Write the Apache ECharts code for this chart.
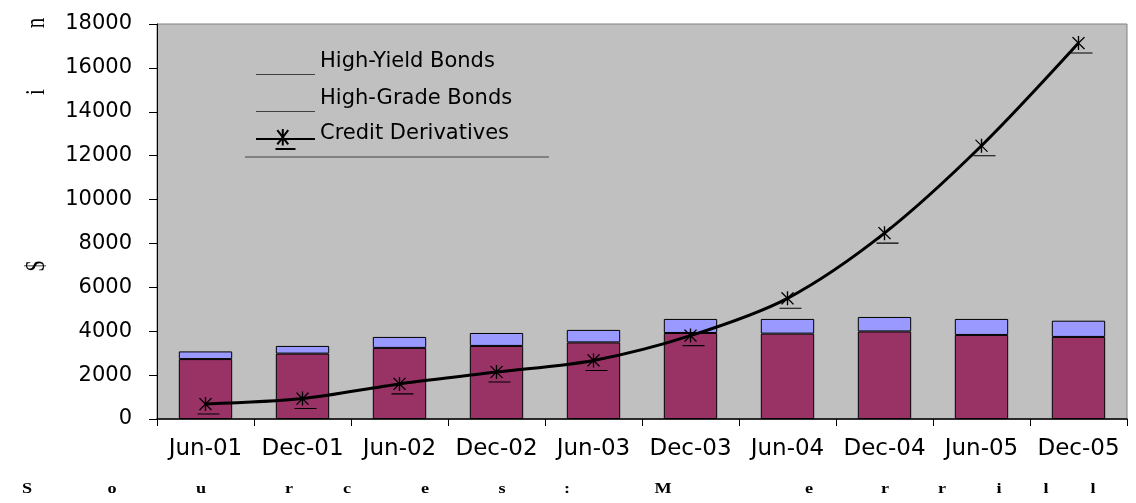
<!DOCTYPE html>
<html>
<head>
<meta charset="utf-8">
<script src="https://cdn.jsdelivr.net/npm/echarts@6/dist/echarts.min.js"></script>
<style>
  html, body { margin: 0; padding: 0; background: #ffffff; }
  #chart { width: 1136px; height: 503px; }
</style>
</head>
<body>
<div id="chart"></div>
<script>
// Half-yearly periods
const categories = ['Jun-01', 'Dec-01', 'Jun-02', 'Dec-02', 'Jun-03', 'Dec-03', 'Jun-04', 'Dec-04', 'Jun-05', 'Dec-05'];

// Outstanding amounts, $ billions
const highGradeBonds = [2730, 2980, 3240, 3330, 3490, 3920, 3890, 3990, 3830, 3740];
const highYieldBonds = [350, 350, 500, 590, 570, 640, 670, 660, 730, 740];
const creditDerivatives = [680, 930, 1600, 2140, 2670, 3800, 5500, 8470, 12450, 17130];

// Value axis
const yMin = 0;
const yMax = 18000;
const yStep = 2000;

// Footnote and axis title, drawn letter by letter
const sourceLetters = ['S', 'o', 'u', 'r', 'c', 'e', 's', ':', 'M', 'e', 'r', 'r', 'i', 'l', 'l'];
const yTitleLetters = ['$', 'i', 'n'];

// Layout of the spaced-out letters
const sourceLetterX = [27, 112, 201, 289, 347, 425, 502, 567, 663, 809, 885, 942, 999, 1046, 1093];
const yTitleLetterY = [266, 92, 23];

const AXIS_FONT = '"DejaVu Sans", sans-serif';
const SERIF = '"Liberation Serif", "DejaVu Serif", serif';

// Asterisk marker with a short rule underneath
const starPath = 'path://M8 0L8 14M2 1L14 13M14 1L2 13M0 17L22 17';
const legendRule = 'path://M0 0L0 0M0 25L59 25';

const chart = echarts.init(document.getElementById('chart'), null, { renderer: 'canvas' });

const graphics = [];
sourceLetters.forEach((ch, i) => {
  graphics.push({
    type: 'text',
    x: sourceLetterX[i],
    y: 489,
    scaleX: 1.3,
    silent: true,
    style: {
      text: ch,
      font: 'bold 14px ' + SERIF,
      fill: '#000',
      textAlign: 'center',
      textVerticalAlign: 'middle'
    }
  });
});
yTitleLetters.forEach((ch, i) => {
  graphics.push({
    type: 'text',
    x: 37,
    y: yTitleLetterY[i],
    rotation: Math.PI / 2,
    scaleY: 1.3,
    silent: true,
    style: {
      text: ch,
      font: '21px ' + SERIF,
      fill: '#000',
      textAlign: 'center',
      textVerticalAlign: 'middle'
    }
  });
});
// Rule under the legend
graphics.push({
  type: 'line',
  silent: true,
  shape: { x1: 245, y1: 157, x2: 549, y2: 157 },
  style: { stroke: '#808080', lineWidth: 2 }
});

const option = {
  animation: false,
  backgroundColor: '#ffffff',
  grid: {
    left: 157,
    right: 9,
    top: 24,
    bottom: 84,
    show: true,
    backgroundColor: '#c0c0c0',
    borderColor: '#808080',
    borderWidth: 1
  },
  legend: {
    orient: 'vertical',
    left: 255,
    top: 49,
    padding: 0,
    itemWidth: 59,
    itemHeight: 25,
    itemGap: 11,
    textStyle: {
      fontFamily: AXIS_FONT,
      fontSize: 21,
      color: '#000',
      rich: {
        raised: { fontFamily: AXIS_FONT, fontSize: 21, color: '#000', padding: [0, 0, 11, 0] }
      }
    },
    formatter: function (name) {
      return name === 'Credit Derivatives' ? '{raised|' + name + '}' : name;
    },
    data: [
      { name: 'High-Yield Bonds', icon: legendRule,
        itemStyle: { color: 'transparent', borderColor: '#404040', borderWidth: 1 } },
      { name: 'High-Grade Bonds', icon: legendRule,
        itemStyle: { color: 'transparent', borderColor: '#404040', borderWidth: 1 } },
      { name: 'Credit Derivatives' }
    ],
    selectedMode: false
  },
  xAxis: {
    type: 'category',
    data: categories,
    boundaryGap: true,
    axisLine: { lineStyle: { color: '#000', width: 1.5 } },
    axisTick: { show: true, length: 7, interval: 0, lineStyle: { color: '#000' } },
    axisLabel: { color: '#000', fontFamily: AXIS_FONT, fontSize: 23, margin: 19, interval: 0 },
    splitLine: { show: false }
  },
  yAxis: {
    type: 'value',
    min: yMin,
    max: yMax,
    interval: yStep,
    axisLine: { show: true, lineStyle: { color: '#000', width: 1 } },
    axisTick: { show: true, length: 8, lineStyle: { color: '#000' } },
    axisLabel: {
      color: '#000', fontFamily: AXIS_FONT, fontSize: 21, margin: 25,
      formatter: function (v) { return String(v); }
    },
    splitLine: { show: false }
  },
  graphic: graphics,
  series: [
    {
      name: 'High-Grade Bonds',
      type: 'bar',
      stack: 'bonds',
      barWidth: '55%',
      data: highGradeBonds,
      itemStyle: { color: '#993366', borderColor: '#000', borderWidth: 1 }
    },
    {
      name: 'High-Yield Bonds',
      type: 'bar',
      stack: 'bonds',
      barWidth: '55%',
      data: highYieldBonds,
      itemStyle: { color: '#9999ff', borderColor: '#000', borderWidth: 1 }
    },
    {
      name: 'Credit Derivatives',
      type: 'line',
      data: creditDerivatives,
      smooth: 0.3,
      z: 5,
      symbol: starPath,
      symbolSize: [22, 17],
      symbolOffset: [3, 1.5],
      showAllSymbol: true,
      lineStyle: { color: '#000', width: 3 },
      itemStyle: { color: 'transparent', borderColor: '#000', borderWidth: 1.2 }
    }
  ]
};

chart.setOption(option);
</script>
</body>
</html>
